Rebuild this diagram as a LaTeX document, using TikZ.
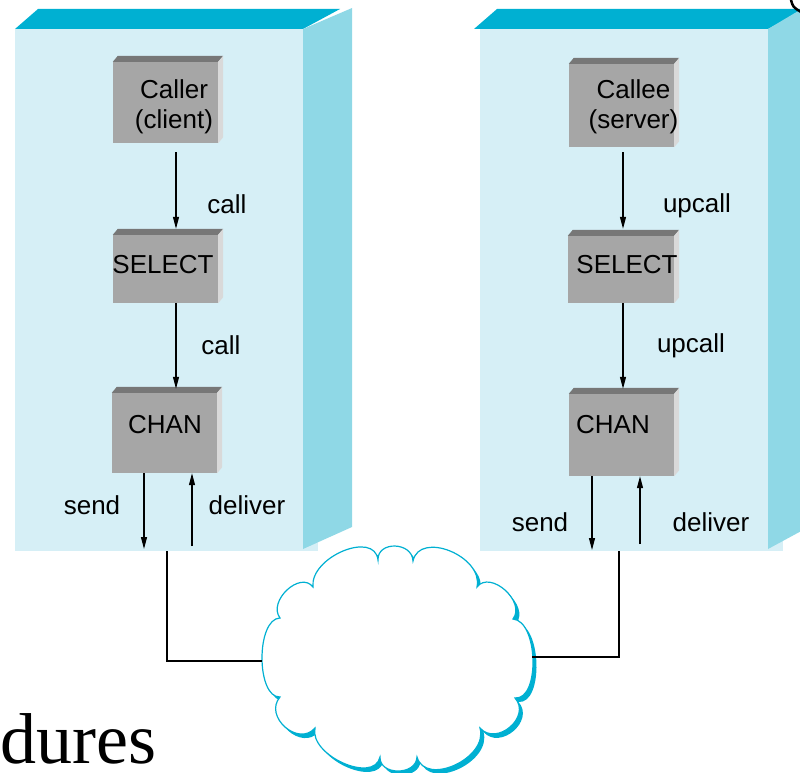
\documentclass[tikz,border=0pt]{standalone}
\usepackage{fontspec}
\setmainfont{Liberation Sans}
\newfontfamily\serifface{Liberation Serif}
\usetikzlibrary{arrows.meta,calc}

\definecolor{facefront}{RGB}{214,239,246}
\definecolor{facetop}{RGB}{0,176,210}
\definecolor{faceside}{RGB}{143,216,230}
\definecolor{blockfront}{RGB}{166,166,166}
\definecolor{blocktop}{RGB}{119,119,119}
\definecolor{blockside}{RGB}{217,217,217}
\definecolor{cloudline}{RGB}{0,176,210}

% raised top and right edges of a grey block
\newcommand\blockrelief[1]{%
  \fill[blocktop] (#1.north west) -- ++(5,-6) -- ($(#1.north east)+(5,-6)$) -- (#1.north east) -- cycle;
  \fill[blockside] (#1.north east) -- ++(5,-6) -- ($(#1.south east)+(5,-6)$) -- (#1.south east) -- cycle;}

\tikzset{
  host/.style={fill=facefront, draw=none, inner sep=0pt},
  block/.style={fill=blockfront, draw=none, inner sep=0pt, minimum width=105},
  txt/.style={font=\fontsize{26}{30.5}\selectfont, inner sep=0pt, align=center},
  arr/.style={line width=1.2pt, -{Stealth[length=12pt,width=6pt,inset=0pt]}},
  wire/.style={line width=1.2pt},
  cloudshape/.pic={
    \path[pic actions] (280,618)
      .. controls (267.3,601.3) and (300.3,570.3) .. (313,587)
      .. controls (309.7,557) and (374.7,530) .. (378,560)
      .. controls (377.3,540.7) and (412.3,541.7) .. (413,561)
      .. controls (419.7,530.3) and (483.7,556.3) .. (477,587)
      .. controls (490.3,569.7) and (526.3,601.7) .. (513,619)
      .. controls (538.3,621) and (540.3,700) .. (515,698)
      .. controls (531.7,716.7) and (496.7,746.7) .. (480,728)
      .. controls (488.7,758) and (425.7,787) .. (417,757)
      .. controls (416.3,775.7) and (379.3,775.7) .. (380,757)
      .. controls (374,784.3) and (309,755.3) .. (315,728)
      .. controls (298.3,747.3) and (263.3,716.3) .. (280,697)
      .. controls (256,697.7) and (256,618.7) .. (280,618) -- cycle;
  }
}

\begin{document}
\begin{tikzpicture}[x=1pt, y=-1pt]
\useasboundingbox (0,0) rectangle (800,773);

% ---- left host (client side) ----
\fill[facetop] (15,29) -- (38,9) -- (340,9) -- (303,29) -- cycle;
\node[host, minimum width=303, minimum height=522] (hostL) at (166.5,290) {};
\fill[faceside] (303,29) -- (352,8) -- (352,527) -- (303,549) -- cycle;

% ---- right host (server side) ----
\fill[facetop] (474,29) -- (497,9) -- (805,9) -- (768,29) -- cycle;
\node[host, minimum width=303, minimum height=522] (hostR) at (631.5,290) {};
\fill[faceside] (768,29) -- (805,7) -- (805,529) -- (768,549) -- cycle;
\draw[line width=2.5pt, line cap=round] (791,0) .. controls (793,7) .. (801,12);

% ---- blocks ----
\node[block, minimum height=81] (caller) at (165.5,102.5) {};
\node[block, minimum height=68] (selL) at (165.5,269) {};
\node[block, minimum height=80] (chanL) at (164.5,433) {};
\node[block, minimum height=83] (callee) at (621.5,105.5) {};
\node[block, minimum width=106, minimum height=67] (selR) at (621,269.5) {};
\node[block, minimum height=82] (chanR) at (621.5,435) {};
\blockrelief{caller}
\blockrelief{selL}
\blockrelief{chanL}
\blockrelief{callee}
\blockrelief{selR}
\blockrelief{chanR}

\node[txt] (callerT) at (174,107) {Caller\\(client)};
\node[txt] (selLT) at (163,265) {SELECT};
\node[txt] (chanLT) at (165,425) {CHAN};
\node[txt] (calleeT) at (633.5,107) {Callee\\(server)};
\node[txt] (selRT) at (627,265) {SELECT};
\node[txt] (chanRT) at (613,425) {CHAN};

% ---- calls between layers ----
\draw[arr] ([xshift=10.5pt,yshift=-9pt]caller.south) -- ([xshift=10.5pt,yshift=6pt]selL.north);
\draw[arr] ([xshift=10.5pt]selL.south) -- ([xshift=11.5pt,yshift=4pt]chanL.north);
\draw[arr] ([xshift=1.5pt,yshift=-5pt]callee.south) -- ([xshift=2pt,yshift=7pt]selR.north);
\draw[arr] ([xshift=2pt]selR.south) -- ([xshift=1.5pt,yshift=5pt]chanR.north);

\node[txt] (callA) at (227,204) {call};
\node[txt] (callB) at (221,345) {call};
\node[txt] (upA) at (697,206) {upcall};
\node[txt] (upB) at (691,346) {upcall};

% ---- send / deliver ----
\coordinate (sendLend) at (144,549);
\coordinate (delLstart) at (192,546);
\coordinate (sendRend) at (592,550);
\coordinate (delRstart) at (640,544);
\draw[arr] (chanL.south -| sendLend) -- (sendLend);
\draw[arr] (delLstart) -- (chanL.south -| delLstart);
\draw[arr] (chanR.south -| sendRend) -- (sendRend);
\draw[arr] (delRstart) -- (chanR.south -| delRstart);

\node[txt] (sendL) at (92,505) {send};
\node[txt] (delL) at (247,505) {deliver};
\node[txt] (sendR) at (540,522) {send};
\node[txt] (delR) at (711,522) {deliver};

% ---- network cloud ----
\pic[fill=facetop, draw=none] at (3.5,4) {cloudshape};
\pic[fill=white, draw=cloudline, line width=1.2pt] at (0,0) {cloudshape};
\coordinate (cloudW) at (262,661);
\coordinate (cloudE) at (532,657);
\draw[wire] ([xshift=0.5pt]hostL.south) |- (cloudW);
\draw[wire] ([xshift=-12.5pt]hostR.south) |- (cloudE);

% ---- heading fragment ----
\node[anchor=base west, inner sep=0pt, font=\serifface\fontsize{72}{86}\selectfont] (heading) at (0,763) {dures};
\end{tikzpicture}
\end{document}
